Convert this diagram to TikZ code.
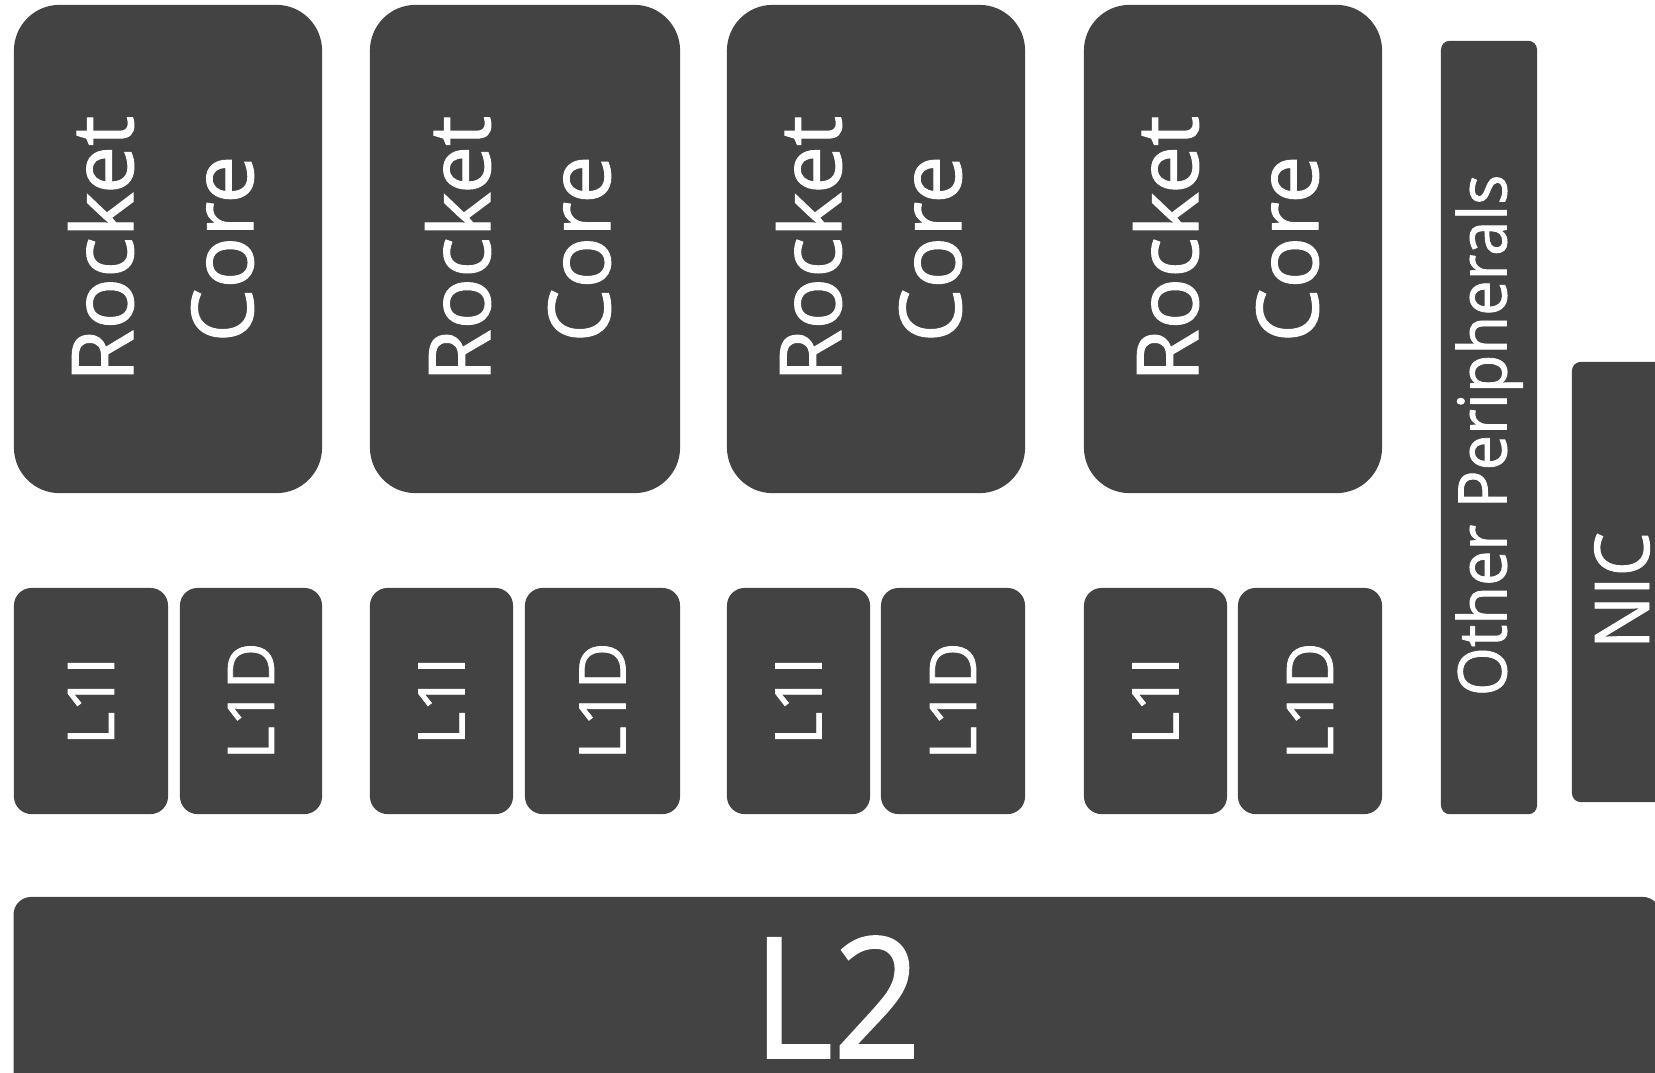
\documentclass[tikz,border=0pt]{standalone}
\usepackage{fontspec}
\setmainfont{Open Sans}[RawFeature={embolden=1.2}]
\usepackage{tikz}
\definecolor{blockgray}{RGB}{67,67,67}
\tikzset{
  block/.style={fill=blockgray, text=white, inner sep=0pt, outer sep=0pt, align=center},
  core/.style={block, rotate=90, rounded corners=13pt, minimum width=4.88cm, text depth=4.2pt, font=\fontsize{24.3}{34.1}\selectfont},
  cache/.style={block, rotate=90, rounded corners=5pt, minimum width=2.26cm, font=\fontsize{18.3}{22}\selectfont},
  side/.style={block, rotate=90, rounded corners=2.5pt},
  bus/.style={block, rounded corners=5pt, minimum width=16.46cm, minimum height=2cm, font=\fontsize{47.8}{50}\selectfont}}

\begin{document}
\begin{tikzpicture}[x=0.01cm, y=-0.01cm]
  \clip (0,0) rectangle (1655,1072);
  % cores
  \node[core, minimum height=3.08cm] (core1) at (168,249) {Rocket\\Core};
  \node[core, minimum height=3.10cm] (core2) at (525,249) {Rocket\\Core};
  \node[core, minimum height=2.98cm] (core3) at (876,249) {Rocket\\Core};
  \node[core, minimum height=2.98cm] (core4) at (1233,249) {Rocket\\Core};
  % private L1 caches
  \node[cache, minimum height=1.54cm] (l1i1) at (91,701) {L1I};
  \node[cache, minimum height=1.42cm] (l1d1) at (251,701) {L1D};
  \node[cache, minimum height=1.43cm] (l1i2) at (441.5,701) {L1I};
  \node[cache, minimum height=1.55cm] (l1d2) at (602.5,701) {L1D};
  \node[cache, minimum height=1.43cm] (l1i3) at (798.5,701) {L1I};
  \node[cache, minimum height=1.44cm] (l1d3) at (953,701) {L1D};
  \node[cache, minimum height=1.43cm] (l1i4) at (1155.5,701) {L1I};
  \node[cache, minimum height=1.44cm] (l1d4) at (1310,701) {L1D};
  % uncore
  \node[side, minimum width=7.73cm, minimum height=0.96cm, font=\fontsize{19.1}{22}\selectfont] (periph) at (1489,427.5) {\scalebox{0.94}[1]{Other Peripherals}\hspace*{4.5pt}};
  \node[side, minimum width=4.40cm, minimum height=1.00cm, font=\fontsize{21.5}{24}\selectfont] (nic) at (1622,582) {\scalebox{0.93}[1]{NIC}\hspace*{4.8pt}};
  \node[bus] (l2) at (837,997) {\scalebox{0.92}[1]{L2}};
\end{tikzpicture}
\end{document}
